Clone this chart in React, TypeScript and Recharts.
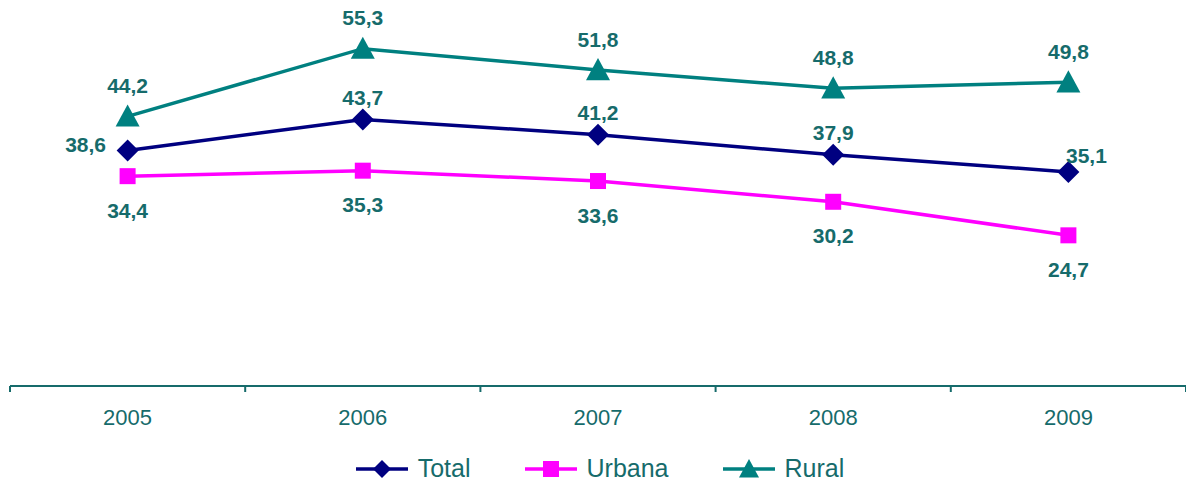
import React from "react"
import { LineChart, Line, XAxis, YAxis, Legend, LabelList } from "recharts"

const years = ["2005", "2006", "2007", "2008", "2009"]
const total = [38.6, 43.7, 41.2, 37.9, 35.1]
const urbana = [34.4, 35.3, 33.6, 30.2, 24.7]
const rural = [44.2, 55.3, 51.8, 48.8, 49.8]

const data = years.map((year, i) => ({ year, total: total[i], urbana: urbana[i], rural: rural[i] }))

const TEAL_TEXT = "#166b6b"
const FONT = "'Liberation Sans', Arial, sans-serif"
const HALF_BAND = 117.6

const fmt = (v: number) => v.toFixed(1).replace(".", ",")

const Diamond = ({ cx, cy, size = 11 }: any) => (
  <polygon points={`${cx},${cy - size} ${cx + size},${cy} ${cx},${cy + size} ${cx - size},${cy}`} fill="#000080" />
)
const Square = ({ cx, cy, size = 8 }: any) => (
  <rect x={cx - size} y={cy - size} width={size * 2} height={size * 2} fill="#FF00FF" />
)
const Triangle = ({ cx, cy, size = 12 }: any) => (
  <polygon points={`${cx},${cy - size} ${cx + size},${cy + size * 0.85} ${cx - size},${cy + size * 0.85}`} fill="#008080" />
)

const makeLabel = (series: "total" | "urbana" | "rural") => (props: any) => {
  const { x, y, value, index } = props
  let dx = 0
  let dy = 0
  if (series === "rural") dy = -31
  if (series === "urbana") dy = 34
  if (series === "total") {
    dy = -22
    if (index === 0) {
      dx = -42
      dy = -6
    }
    if (index === years.length - 1) {
      dx = 18
      dy = -16
    }
  }
  return (
    <text
      x={x + dx}
      y={y + dy + 7.5}
      textAnchor="middle"
      fill={TEAL_TEXT}
      fontFamily={FONT}
      fontWeight="bold"
      fontSize={21}
    >
      {fmt(value)}
    </text>
  )
}

const YearTick = (props: any) => {
  const { x, y, payload, index } = props
  return (
    <g>
      <line x1={x - HALF_BAND} x2={x - HALF_BAND} y1={y} y2={y + 6} stroke={TEAL_TEXT} strokeWidth={2} />
      {index === years.length - 1 && (
        <line x1={x + HALF_BAND} x2={x + HALF_BAND} y1={y} y2={y + 6} stroke={TEAL_TEXT} strokeWidth={2} />
      )}
      <text x={x} y={y + 39} textAnchor="middle" fill={TEAL_TEXT} fontFamily={FONT} fontSize={22}>
        {payload.value}
      </text>
    </g>
  )
}

const legendItems = [
  { name: "Total", color: "#000080", Marker: Diamond, size: 9 },
  { name: "Urbana", color: "#FF00FF", Marker: Square, size: 8 },
  { name: "Rural", color: "#008080", Marker: Triangle, size: 10 },
]

const CustomLegend = () => (
  <div style={{ display: "flex", justifyContent: "center", gap: 54, fontFamily: FONT, paddingLeft: 4 }}>
    {legendItems.map(({ name, color, Marker, size }) => (
      <div key={name} style={{ display: "flex", alignItems: "center" }}>
        <svg width={52} height={24}>
          <line x1={0} x2={52} y1={12} y2={12} stroke={color} strokeWidth={3.5} />
          <Marker cx={26} cy={12} size={size} />
        </svg>
        <span style={{ color: TEAL_TEXT, fontSize: 25, marginLeft: 10 }}>{name}</span>
      </div>
    ))}
  </div>
)

export default function App() {
  return (
    <div style={{ position: "absolute", left: 0, top: 0, width: 1186, height: 482, background: "#fff" }}>
      <LineChart width={1186} height={482} data={data} margin={{ top: 20, right: 0, left: 10, bottom: 0 }}>
        <XAxis
          dataKey="year"
          height={68}
          padding={{ left: HALF_BAND, right: HALF_BAND }}
          axisLine={{ stroke: TEAL_TEXT, strokeWidth: 2 }}
          tickLine={false}
          tickSize={0}
          tickMargin={0}
          tick={<YearTick />}
          interval={0}
        />
        <YAxis hide domain={[0, 60]} />
        <Legend verticalAlign="bottom" height={28} content={<CustomLegend />} />
        <Line
          dataKey="total"
          name="Total"
          stroke="#000080"
          strokeWidth={3.5}
          dot={<Diamond />}
          activeDot={false}
          isAnimationActive={false}
        >
          <LabelList dataKey="total" content={makeLabel("total")} />
        </Line>
        <Line
          dataKey="urbana"
          name="Urbana"
          stroke="#FF00FF"
          strokeWidth={3.5}
          dot={<Square />}
          activeDot={false}
          isAnimationActive={false}
        >
          <LabelList dataKey="urbana" content={makeLabel("urbana")} />
        </Line>
        <Line
          dataKey="rural"
          name="Rural"
          stroke="#008080"
          strokeWidth={3.5}
          dot={<Triangle />}
          activeDot={false}
          isAnimationActive={false}
        >
          <LabelList dataKey="rural" content={makeLabel("rural")} />
        </Line>
      </LineChart>
    </div>
  )
}
